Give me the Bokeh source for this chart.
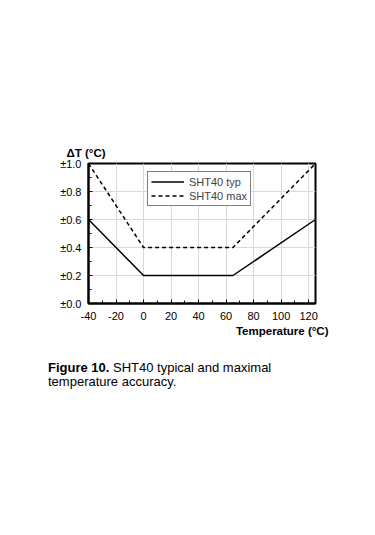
from bokeh.plotting import figure
from bokeh.models import Range1d, Legend, LegendItem, FixedTicker, Title, Div
from bokeh.layouts import column
from bokeh.embed import file_html
from bokeh.resources import INLINE

temp_typ = [-40, 0, 65, 125]
acc_typ = [0.6, 0.2, 0.2, 0.6]
temp_max = [-40, 0, 65, 125]
acc_max = [1.0, 0.4, 0.4, 1.0]
x_ticks = [-40, -20, 0, 20, 40, 60, 80, 100, 120]
x_tick_labels = ["-40", "-20", "0", "20", "40", "60", "80", "100", "120"]
y_ticks = [0.0, 0.2, 0.4, 0.6, 0.8, 1.0]
y_tick_labels = ["±0.0", "±0.2", "±0.4", "±0.6", "±0.8", "±1.0"]
y_title = "ΔT (°C)"
x_title = "Temperature (°C)"
caption_bold = "Figure 10."
caption_line1 = "SHT40 typical and maximal"
caption_line2 = "temperature accuracy."

FONT = "Liberation Sans"

W = 375
H1 = 360
H2 = 535 - H1
FL, FR, FT, FB = 88, 315, 163, 303

p = figure(width=W, height=H1, output_backend="svg", toolbar_location=None,
           x_range=Range1d(-40, 125), y_range=Range1d(0.0, 1.0),
           min_border_left=FL, min_border_right=W - FR, min_border_top=FT,
           min_border_bottom=H1 - FB)
p.background_fill_color = "white"
p.border_fill_color = "white"
p.outline_line_color = "black"
p.outline_line_width = 2

p.xaxis.ticker = FixedTicker(ticks=x_ticks, minor_ticks=list(range(-40, 126, 10)))
p.yaxis.ticker = FixedTicker(ticks=y_ticks, minor_ticks=[i / 10 for i in range(11)])
p.xaxis.major_label_overrides = {v: l for v, l in zip(x_ticks, x_tick_labels)}
p.yaxis.major_label_overrides = {v: l for v, l in zip(y_ticks, y_tick_labels)}
for ax in (p.xaxis, p.yaxis):
    ax.axis_line_color = "black"
    ax.axis_line_width = 2
    ax.major_tick_in = 4
    ax.major_tick_out = 0
    ax.minor_tick_in = 3
    ax.minor_tick_out = 0
    ax.major_tick_line_color = "black"
    ax.minor_tick_line_color = "black"
    ax.major_label_text_font = FONT
    ax.major_label_text_font_size = "11px"
    ax.major_label_text_color = "black"
p.xaxis.major_label_standoff = 8
p.yaxis.major_label_standoff = 7

p.xgrid.ticker = FixedTicker(ticks=x_ticks)
p.ygrid.ticker = FixedTicker(ticks=y_ticks)
p.grid.grid_line_color = "#d9d9d9"
p.grid.grid_line_width = 1

r_typ = p.line(temp_typ, acc_typ, line_color="black", line_width=1.5)
r_max = p.line(temp_max, acc_max, line_color="black", line_width=1.5, line_dash="4 3")

legend = Legend(items=[LegendItem(label="SHT40 typ", renderers=[r_typ]),
                       LegendItem(label="SHT40 max", renderers=[r_max])],
                location=(59, 97))
legend.border_line_color = "black"
legend.border_line_width = 1
legend.label_text_font = FONT
legend.label_text_font_size = "11px"
legend.glyph_width = 33
legend.spacing = 1
legend.padding = 3
legend.margin = 0
legend.label_height = 13
legend.glyph_height = 13
legend.label_standoff = 5
legend.background_fill_alpha = 1
p.add_layout(legend, "center")

t_y = Title(text=y_title, align="left", offset=-22, standoff=9,
            text_font=FONT, text_font_size="11.5px", text_font_style="bold",
            text_color="black")
p.add_layout(t_y, "above")
t_x = Title(text=x_title, align="right", offset=-13, standoff=1,
            text_font=FONT, text_font_size="11.5px", text_font_style="bold",
            text_color="black")
p.add_layout(t_x, "below")

caption = Div(
    text=f"<b>{caption_bold}</b> {caption_line1}<br>{caption_line2}",
    width=W, height=H2, margin=0,
    styles={"font-family": FONT, "font-size": "13px", "line-height": "13.5px",
            "color": "black", "padding-left": "48px", "padding-top": "1px",
            "box-sizing": "border-box", "background-color": "white"},
)

layout = column(p, caption, spacing=0)
open("out.html", "w").write(file_html(layout, INLINE))
